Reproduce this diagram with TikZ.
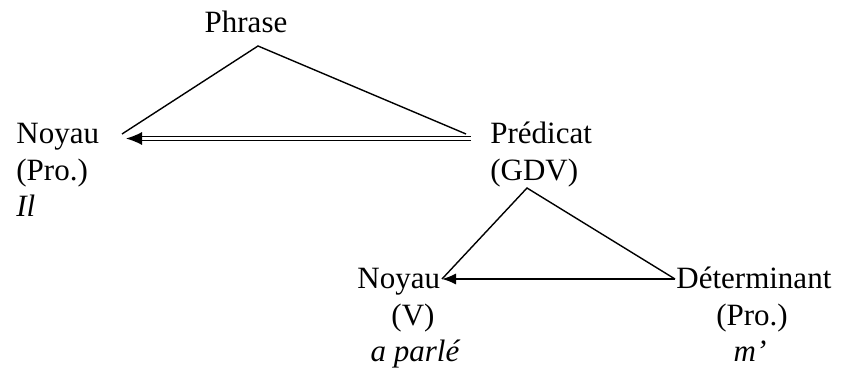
\documentclass[tikz,border=0pt]{standalone}
\usepackage{fontspec}
\setmainfont{Liberation Serif}
\usetikzlibrary{arrows.meta}

\tikzset{
  lbl/.style={inner sep=0pt, font=\fontsize{15.5}{18}\selectfont},
  link/.style={line width=0.7pt},
  head/.style={link, -{Latex[length=7pt,width=5.5pt]}},
  dblhead/.style={double, double distance=1.6pt, line width=0.6pt, -{Latex[length=8pt,width=6.5pt]}}
}

\begin{document}
\begin{tikzpicture}[x=0.5pt, y=-0.5pt]
  % frame
  \useasboundingbox (0,0) rectangle (846,374);

  % top level
  \node[lbl, anchor=base] (phrase) at (246,33) {Phrase};
  \node[lbl, anchor=base west] (noyauA) at (16,143) {Noyau};
  \node[lbl, anchor=base west] (proA) at (16,180) {(Pro.)};
  \node[lbl, anchor=base west] (ilA) at (16,216) {\itshape Il};
  \node[lbl, anchor=base west] (predicat) at (490,143) {Prédicat};
  \node[lbl, anchor=base west] (gdv) at (490,180) {(GDV)};

  % lower level
  \node[lbl, anchor=base west] (noyauB) at (357,288) {Noyau};
  \node[lbl, anchor=base] (vB) at (413,325) {(V)};
  \node[lbl, anchor=base] (parle) at (415,361) {\itshape a parlé};
  \node[lbl, anchor=base west] (determ) at (676,288) {Déterminant};
  \node[lbl, anchor=base] (proB) at (752,325) {(Pro.)};
  \node[lbl, anchor=base] (mB) at (750,361) {\itshape m’};

  % end points
  \coordinate (apexA) at (258,46);
  \coordinate (leftA) at (122,134);
  \coordinate (rightA) at (466,134);
  \coordinate (tipA) at (126,138.5);
  \coordinate (tailA) at (471,138.5);
  \coordinate (apexB) at (527,188);
  \coordinate (tipB) at (442,279);
  \coordinate (tailB) at (675,279);

  % upper triangle
  \draw[link] (leftA) -- (apexA) -- (rightA);
  \draw[dblhead] (tailA) -- (tipA);

  % lower triangle
  \draw[link] (tipB) -- (apexB) -- (tailB);
  \draw[head] (tailB) -- (tipB);
\end{tikzpicture}
\end{document}
